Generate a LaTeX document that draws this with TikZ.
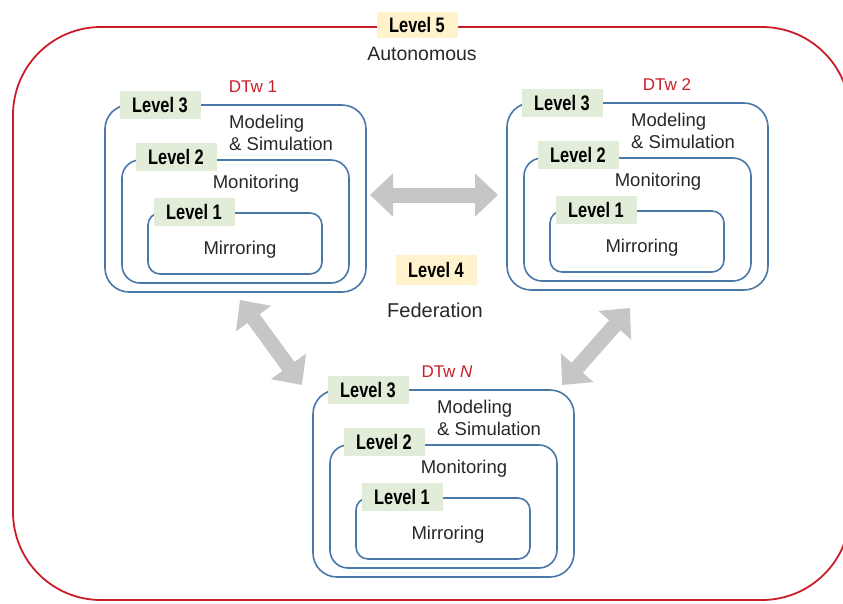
\documentclass[tikz,border=0pt]{standalone}
\usepackage{fontspec}
\setmainfont{Liberation Sans}
\newfontfamily\tagfont{Liberation Sans}[FakeStretch=0.78]
\usetikzlibrary{arrows.meta,positioning}
\definecolor{dtblue}{RGB}{74,120,168}
\definecolor{dtred}{RGB}{200,30,40}
\definecolor{dtgreen}{RGB}{226,237,217}
\definecolor{dtyellow}{RGB}{255,242,204}
\definecolor{dtgray}{RGB}{198,198,198}
\definecolor{dttext}{RGB}{40,40,40}
\tikzstyle{lvlbox} = [rectangle, draw=dtblue, line width=1.6pt, inner sep=0pt]
\tikzstyle{lvltag} = [rectangle, fill=dtgreen, minimum width=81pt, minimum height=28pt, inner sep=0pt, text=black, font=\tagfont\bfseries\fontsize{21}{21}\selectfont]
\tikzstyle{fedarrow} = [line width=15pt, dtgray, {Triangle[width=42pt,length=23pt]}-{Triangle[width=42pt,length=23pt]}]

% one digital twin: name, x, y, title, title offset
\newcommand{\dtwgroup}[5]{%
  \begin{scope}[shift={(#2,#3)}]
    \node[lvlbox, rounded corners=24pt, minimum width=261, minimum height=187] (#1-l3) at (130.5,93.5) {};
    \node[lvlbox, rounded corners=18pt, minimum width=227, minimum height=123] (#1-l2) at (130.5,116.5) {};
    \node[lvlbox, rounded corners=12pt, minimum width=174, minimum height=61] (#1-l1) at (130,138.5) {};
    \node[lvltag] (#1-t3) at (55,0) {Level 3};
    \node[lvltag] (#1-t2) at (71,52) {Level 2};
    \node[lvltag] (#1-t1) at (89,107) {Level 1};
    \node[dtwtitle] (#1-title) at (#5,-18) {#4};
    \node[dtwtext, anchor=west, align=left] (#1-mod) at (124,28) {Modeling\\\& Simulation};
    \node[dtwtext] (#1-mon) at (151,79) {Monitoring};
    \node[dtwtext] (#1-mir) at (135,145) {Mirroring};
  \end{scope}}

\begin{document}
\begin{tikzpicture}[x=1pt, y=-1pt,
    dtwtext/.style={inner sep=0pt, text=dttext, font=\fontsize{18.5}{22}\selectfont},
    dtwtitle/.style={inner sep=0pt, text=dtred, font=\fontsize{17}{17}\selectfont},
    fedtag/.style={lvltag, fill=dtyellow}]
\useasboundingbox (0,0) rectangle (843,603);

% Level 5 frame
\node[draw=dtred, line width=1.8pt, rounded corners=88pt, minimum width=837, minimum height=573, inner sep=0pt] (auto) at (431.5,313.5) {};
\node[fedtag, minimum height=26pt] (lv5) at (417,25) {Level 5};
\node[dtwtext, font=\fontsize{19.5}{20}\selectfont] (autotxt) at (422,54) {Autonomous};

% Digital twins
\dtwgroup{dtw1}{105}{105}{DTw 1}{148}
\dtwgroup{dtw2}{507}{103}{DTw 2}{160}
\dtwgroup{dtwn}{313}{390}{DTw \textit{N}}{134}

% Level 4 federation
\node[fedtag, minimum height=30pt] (lv4) at (436,270) {Level 4};
\node[dtwtext, font=\fontsize{20}{20}\selectfont] (fedtxt) at (435,310) {Federation};

\coordinate (f12a) at (370,195);
\coordinate (f12b) at (498,195);
\coordinate (f1na) at (240,300);
\coordinate (f1nb) at (302,385);
\coordinate (f2na) at (630,308);
\coordinate (f2nb) at (562,385);
\draw[fedarrow] (f12a) -- (f12b);
\draw[fedarrow] (f1na) -- (f1nb);
\draw[fedarrow] (f2na) -- (f2nb);
\end{tikzpicture}
\end{document}
